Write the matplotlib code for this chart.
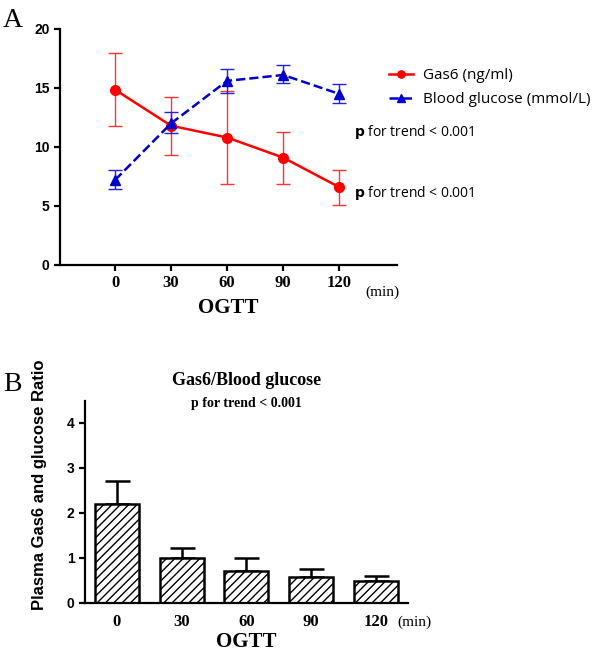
import matplotlib.pyplot as plt
import numpy as np

# OGTT time points (min)
times = [0, 30, 60, 90, 120]
time_labels = ['0', '30', '60', '90', '120']

# panel A
gas6_mean = [14.85, 11.8, 10.8, 9.1, 6.6]
gas6_low = [11.75, 9.3, 6.85, 6.85, 5.1]
gas6_high = [18.0, 14.25, 14.7, 11.3, 8.05]

glucose_mean = [7.2, 12.0, 15.6, 16.1, 14.5]
glucose_low = [6.4, 11.2, 14.6, 15.4, 13.7]
glucose_high = [8.05, 12.95, 16.6, 16.95, 15.35]

# panel B
ratio_mean = [2.2, 1.0, 0.72, 0.58, 0.48]
ratio_err = [0.51, 0.23, 0.29, 0.17, 0.12]

serif = 'Liberation Serif'
sans = 'Liberation Sans'

fig = plt.figure(figsize=(6, 6.52), dpi=100)

# ---------------- panel A ----------------
ax1 = fig.add_axes([0.1, 0.5936, 0.5617, 0.362])

g_err = [np.subtract(gas6_mean, gas6_low), np.subtract(gas6_high, gas6_mean)]
b_err = [np.subtract(glucose_mean, glucose_low), np.subtract(glucose_high, glucose_mean)]

ax1.errorbar(times, gas6_mean, yerr=g_err, fmt='none', ecolor='#ff3333',
             elinewidth=1.0, capsize=5, capthick=1.0, zorder=2)
ax1.plot(times, gas6_mean, color='#ff0000', linewidth=1.8, marker='o',
         markersize=7, label='Gas6 (ng/ml)', zorder=3)

ax1.errorbar(times, glucose_mean, yerr=b_err, fmt='none', ecolor='#2222dd',
             elinewidth=1.0, capsize=5, capthick=1.0, zorder=2)
ax1.plot(times, glucose_mean, color='#0000cc', linewidth=1.8, linestyle='--',
         marker='^', markersize=7, label='Blood glucose (mmol/L)', zorder=3)

ax1.set_xlim(-29.5, 151)
ax1.set_ylim(0, 20)
ax1.set_xticks(times)
ax1.set_xticklabels(time_labels, fontfamily=serif, fontweight='bold', fontsize=12)
ax1.set_yticks([0, 5, 10, 15, 20])
ax1.set_yticklabels(['0', '5', '10', '15', '20'], fontfamily=sans, fontweight='bold', fontsize=10)
for s in ['top', 'right']:
    ax1.spines[s].set_visible(False)
for s in ['left', 'bottom']:
    ax1.spines[s].set_linewidth(1.6)
ax1.tick_params(width=1.6, length=4)

ax1.text(0.5, -0.14, 'OGTT', transform=ax1.transAxes, ha='center', va='top',
         fontfamily=serif, fontweight='bold', fontsize=15)
ax1.text(134, -2.3, '(min)', ha='left', va='center', fontfamily=serif, fontsize=11)

leg = ax1.legend(loc='upper left', bbox_to_anchor=(389 / 600, 1 - 68 / 652),
                 bbox_transform=fig.transFigure, frameon=False,
                 prop={'family': 'Open Sans', 'size': 11}, handlelength=1.6,
                 handletextpad=0.6, labelspacing=0.6, borderpad=0,
                 borderaxespad=0, markerscale=0.75)

for y in [11.3, 6.1]:
    ax1.text(128, y, r'$\mathbf{p}$ for trend < 0.001', ha='left', va='center',
             fontfamily='Open Sans', fontsize=10)

fig.text(0.005, 0.968, 'A', fontfamily=serif, fontsize=20, va='center', ha='left')

# ---------------- panel B ----------------
ax2 = fig.add_axes([0.1417, 0.0752, 0.538, 0.31])
pos = np.arange(len(times))
ax2.bar(pos, ratio_mean, width=0.68, color='white', edgecolor='black',
        linewidth=1.8, hatch='////', zorder=2)
ax2.errorbar(pos, ratio_mean, yerr=[np.zeros(len(pos)), ratio_err], fmt='none',
             ecolor='black', elinewidth=1.8, capsize=9, capthick=1.8, zorder=1)

ax2.set_xlim(-0.49, 4.49)
ax2.set_ylim(0, 4.49)
ax2.set_xticks(pos)
ax2.set_xticklabels(time_labels, fontfamily=serif, fontweight='bold', fontsize=12)
ax2.set_yticks([0, 1, 2, 3, 4])
ax2.set_yticklabels(['0', '1', '2', '3', '4'], fontfamily=sans, fontweight='bold', fontsize=10)
ax2.tick_params(axis='x', length=0, pad=8)
ax2.tick_params(axis='y', width=1.6, length=4)
for s in ['top', 'right']:
    ax2.spines[s].set_visible(False)
for s in ['left', 'bottom']:
    ax2.spines[s].set_linewidth(1.6)

ax2.set_ylabel('Plasma Gas6 and glucose Ratio', fontfamily=sans, fontweight='bold',
               fontsize=12)
ax2.yaxis.set_label_coords(-0.118, 0.584)
ax2.text(0.5, -0.193, 'OGTT', transform=ax2.transAxes, ha='center', va='center',
         fontfamily=serif, fontweight='bold', fontsize=15)
ax2.text(4.33, -0.42, '(min)', ha='left', va='center', fontfamily=serif, fontsize=11)
ax2.text(0.5, 1.1, 'Gas6/Blood glucose', transform=ax2.transAxes, ha='center',
         va='center', fontfamily=serif, fontweight='bold', fontsize=13)
ax2.text(0.5, 0.985, 'p for trend < 0.001', transform=ax2.transAxes, ha='center',
         va='center', fontfamily=serif, fontweight='bold', fontsize=10)

fig.text(0.005, 0.41, 'B', fontfamily=serif, fontsize=20, va='center', ha='left')

fig.savefig('out.png', dpi=100)
